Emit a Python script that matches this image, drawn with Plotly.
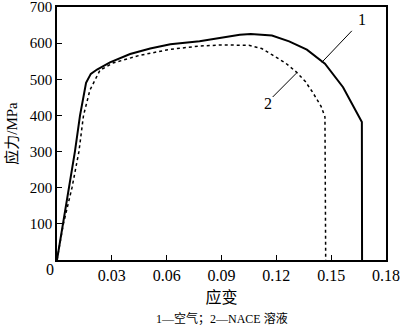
import plotly.graph_objects as go

strain_air = [0, 0.0033, 0.0066, 0.0098, 0.0126, 0.0159, 0.0185, 0.0219, 0.029, 0.040, 0.051, 0.062,
              0.078, 0.090, 0.100, 0.106, 0.1176, 0.127, 0.1367, 0.1466, 0.1565, 0.1668, 0.1669]
stress_air = [0, 100, 200, 300, 400, 490, 515, 527, 547, 570, 585, 597,
              605, 615, 623, 625, 621, 605, 582, 543, 478, 382, 0]

strain_nace = [0, 0.0035, 0.0082, 0.012, 0.0145, 0.018, 0.0235, 0.0306, 0.045, 0.062, 0.078, 0.090,
               0.105, 0.112, 0.1176, 0.125, 0.131, 0.136, 0.140, 0.1445, 0.1466, 0.147]
stress_nace = [0, 100, 200, 300, 400, 470, 525, 545, 566, 583, 592, 595,
               594, 585, 568, 545, 520, 493, 463, 425, 396, 0]

x_ticks = [0.03, 0.06, 0.09, 0.12, 0.15, 0.18]
x_tick_labels = ["0.03", "0.06", "0.09", "0.12", "0.15", "0.18"]
y_ticks = [100, 200, 300, 400, 500, 600, 700]

SERIF = "Liberation Serif"
MIXED = "Liberation Serif, Noto Sans CJK SC, serif"

fig = go.Figure()
fig.add_trace(go.Scatter(x=strain_air, y=stress_air, mode="lines",
                         line=dict(color="black", width=2), name="1"))
fig.add_trace(go.Scatter(x=strain_nace, y=stress_nace, mode="lines",
                         line=dict(color="black", width=1.5, dash="dot"), name="2"))

# leader lines and labels
fig.add_shape(type="line", x0=0.1613, y0=634, x1=0.1449, y1=547, line=dict(color="black", width=1))
fig.add_shape(type="line", x0=0.118, y0=451, x1=0.131, y1=517, line=dict(color="black", width=1))
fig.add_annotation(x=0.1635, y=636, text="1", showarrow=False, xanchor="left", yanchor="bottom",
                   font=dict(family=SERIF, size=16, color="black"))
fig.add_annotation(x=0.1154, y=434, text="2", showarrow=False,
                   font=dict(family=SERIF, size=16, color="black"))
fig.add_annotation(x=(50 - 57) / 329, y=(260 - 270) / 254, xref="paper", yref="paper",
                   xanchor="center", yanchor="middle", text="0", showarrow=False,
                   font=dict(family=SERIF, size=16, color="black"))
fig.add_annotation(x=0.5, y=(260 - 309) / 254, xref="paper", yref="paper", yanchor="top",
                   text="1—空气；2—NACE 溶液", showarrow=False,
                   font=dict(family=MIXED, size=12, color="black"))

fig.update_xaxes(range=[0, 0.18], tickvals=x_ticks, ticktext=x_tick_labels,
                 ticks="inside", ticklen=5, tickwidth=1.2, tickcolor="black",
                 showline=True, linecolor="black", linewidth=1.5, mirror=True,
                 showgrid=False, zeroline=False, automargin=False, ticklabeloverflow="allow",
                 tickfont=dict(family=SERIF, size=16, color="black"),
                 title=dict(text="应变", standoff=6,
                            font=dict(family="Noto Sans CJK SC", size=16, color="black")))
fig.update_yaxes(range=[0, 700], tickvals=y_ticks,
                 ticks="inside", ticklen=5, tickwidth=1.2, tickcolor="black",
                 showline=True, linecolor="black", linewidth=1.5, mirror=True,
                 showgrid=False, zeroline=False, automargin=False, ticklabeloverflow="allow",
                 tickfont=dict(family=SERIF, size=15, color="black"),
                 title=dict(text="应力/MPa", standoff=9,
                            font=dict(family=MIXED, size=15, color="black")))

fig.update_layout(width=400, height=330, margin=dict(l=57, r=14, t=7, b=70),
                  paper_bgcolor="white", plot_bgcolor="white", showlegend=False)

fig.write_html("out.html")
